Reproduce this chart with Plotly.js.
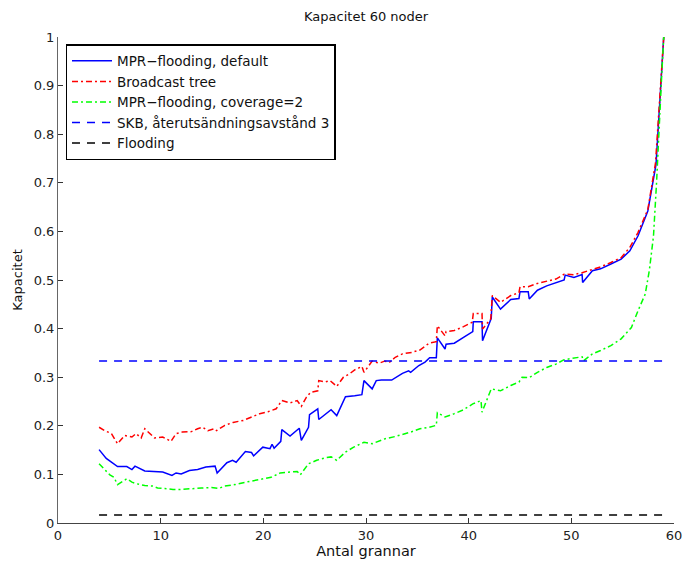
<!DOCTYPE html>
<html>
<head>
<meta charset="utf-8">
<script src="https://cdn.plot.ly/plotly-3.0.1.min.js"></script>
<style>html,body{margin:0;padding:0;background:#fff;}#chart{width:683px;height:564px;}</style>
</head>
<body>
<div id="chart"></div>
<script>
// MPR-flooding, default
const mprX = [4.0,4.7,5.8,6.7,7.2,7.5,8.45,9.25,10.2,11.1,11.5,12.0,12.8,13.6,14.4,15.3,15.5,16.45,17.0,17.35,18.25,18.85,19.05,19.95,20.65,20.85,21.05,21.7,21.8,22.6,23.5,23.7,24.4,24.5,25.3,25.4,26.2,26.6,27.15,28.0,28.9,29.6,29.8,30.6,31.0,31.5,32.5,33.55,34.15,34.35,35.15,35.75,36.2,36.85,36.95,37.7,37.8,38.6,39.5,40.4,40.45,41.3,41.35,42.2,42.3,43.1,44.1,44.9,45.0,45.8,45.9,46.7,47.6,48.5,49.3,49.4,50.25,51.05,51.1,52.05,52.85,53.85,54.85,55.7,56.5,57.45,58.25,59.0];
const mprY = [0.151,0.133,0.116,0.116,0.110,0.117,0.107,0.106,0.105,0.098,0.103,0.101,0.108,0.110,0.115,0.117,0.103,0.124,0.129,0.125,0.147,0.145,0.138,0.156,0.153,0.162,0.154,0.168,0.192,0.179,0.195,0.170,0.197,0.223,0.235,0.213,0.227,0.233,0.221,0.260,0.262,0.264,0.293,0.276,0.293,0.294,0.294,0.308,0.313,0.310,0.324,0.331,0.340,0.340,0.381,0.358,0.368,0.370,0.382,0.394,0.414,0.414,0.375,0.421,0.465,0.440,0.460,0.462,0.476,0.476,0.461,0.479,0.488,0.495,0.500,0.510,0.505,0.511,0.495,0.519,0.523,0.533,0.543,0.560,0.591,0.642,0.738,1.0];

// Broadcast tree
const treeX = [4.0,4.55,5.2,5.8,6.5,7.2,7.6,8.1,8.45,9.4,10.2,11.0,11.5,12.1,13.0,13.6,14.1,14.6,15.25,15.45,16.25,17.05,18.05,18.85,19.65,20.45,21.25,21.8,22.6,23.3,23.7,24.2,24.6,25.3,25.4,26.0,26.5,27.15,27.8,28.4,28.9,29.6,29.8,30.6,31.3,31.8,32.3,32.85,33.55,34.45,35.25,36.15,36.85,36.95,37.7,37.8,38.6,39.5,40.35,40.45,41.3,41.35,42.15,42.3,43.1,44.1,44.9,45.0,45.8,46.7,47.6,48.5,49.3,50.25,51.05,52.05,52.85,53.85,54.85,55.7,56.5,57.45,58.2,59.0];
const treeY = [0.197,0.190,0.184,0.163,0.180,0.177,0.184,0.175,0.194,0.175,0.177,0.168,0.184,0.187,0.188,0.194,0.197,0.190,0.194,0.190,0.201,0.207,0.211,0.218,0.225,0.229,0.235,0.252,0.247,0.252,0.240,0.259,0.269,0.272,0.293,0.290,0.293,0.281,0.300,0.307,0.315,0.322,0.310,0.333,0.329,0.333,0.331,0.341,0.348,0.351,0.356,0.370,0.373,0.406,0.385,0.394,0.396,0.404,0.413,0.431,0.431,0.399,0.420,0.468,0.454,0.468,0.474,0.486,0.486,0.493,0.498,0.502,0.512,0.511,0.515,0.522,0.527,0.536,0.546,0.567,0.598,0.645,0.741,1.0];

// MPR-flooding, coverage=2
const covX = [4.0,4.55,5.05,5.45,5.8,6.7,7.2,7.6,8.45,9.25,9.7,10.4,11.2,12.0,13.0,13.95,14.95,15.65,16.25,17.25,18.05,18.85,19.95,20.75,21.65,22.65,23.3,23.6,24.4,25.2,26.0,26.6,27.15,28.0,28.8,29.8,30.6,31.8,32.85,34.35,35.25,36.15,36.85,36.95,37.7,38.6,39.5,40.4,41.2,41.3,42.2,43.1,44.1,44.9,45.2,45.9,46.7,47.6,48.5,49.3,50.25,51.05,51.2,52.05,52.85,53.85,54.85,55.85,56.5,57.2,57.6,58.0,58.3,58.5,58.8,59.0];
const covY = [0.122,0.110,0.099,0.094,0.079,0.091,0.084,0.081,0.077,0.076,0.072,0.071,0.069,0.069,0.071,0.072,0.073,0.071,0.076,0.079,0.083,0.086,0.091,0.094,0.103,0.105,0.106,0.099,0.122,0.129,0.134,0.136,0.129,0.146,0.156,0.166,0.163,0.173,0.178,0.187,0.194,0.197,0.201,0.227,0.218,0.225,0.233,0.245,0.252,0.228,0.276,0.272,0.283,0.290,0.300,0.299,0.310,0.320,0.327,0.336,0.339,0.342,0.334,0.348,0.355,0.365,0.379,0.402,0.437,0.471,0.520,0.590,0.700,0.800,0.920,1.0];

// SKB, återutsändningsavstånd 3
const skbX = [4, 59];
const skbY = [0.3333, 0.3333];

// Flooding
const floodX = [4, 59];
const floodY = [0.0167, 0.0167];

const xTicks = [0,10,20,30,40,50,60];
const yTicks = [0,0.1,0.2,0.3,0.4,0.5,0.6,0.7,0.8,0.9,1];
const yTickText = ['0','0.1','0.2','0.3','0.4','0.5','0.6','0.7','0.8','0.9','1'];

const FONT = 'DejaVu Sans, sans-serif';

const traces = [
  {x: mprX, y: mprY, name: 'MPR\u2212flooding, default', mode: 'lines', line: {color: '#0000ff', width: 1.5}},
  {x: treeX, y: treeY, name: 'Broadcast tree', mode: 'lines', line: {color: '#ff0000', width: 1.5, dash: '6px,3px,2px,3px'}},
  {x: covX, y: covY, name: 'MPR\u2212flooding, coverage=2', mode: 'lines', line: {color: '#00ff00', width: 1.5, dash: '6px,3px,2px,3px'}},
  {x: skbX, y: skbY, name: 'SKB, återutsändningsavstånd 3', mode: 'lines', line: {color: '#0000ff', width: 1.5, dash: '8px,7px'}},
  {x: floodX, y: floodY, name: 'Flooding', mode: 'lines', line: {color: '#000000', width: 1.5, dash: '8px,7px'}}
];

const layout = {
  width: 683, height: 564,
  margin: {l: 58, r: 9, t: 37, b: 41, pad: 0},
  paper_bgcolor: '#ffffff', plot_bgcolor: '#ffffff',
  font: {family: FONT, size: 13, color: '#222'},
  showlegend: true,
  title: {text: 'Kapacitet 60 noder', font: {family: FONT, size: 13, color: '#111'}, x: 0.536, xanchor: 'center', y: 0.97, yanchor: 'middle'},
  xaxis: {
    range: [0, 60], tickmode: 'array', tickvals: xTicks,
    ticks: 'inside', ticklen: 5, tickcolor: '#333', tickwidth: 1,
    showline: true, linecolor: '#444', linewidth: 1, mirror: false,
    showgrid: false, zeroline: false,
    tickfont: {family: FONT, size: 13, color: '#222'},
    title: {text: 'Antal grannar', font: {family: FONT, size: 14.5, color: '#111'}, standoff: 0}
  },
  yaxis: {
    range: [0, 1], tickmode: 'array', tickvals: yTicks, ticktext: yTickText,
    ticks: 'inside', ticklen: 5, tickcolor: '#333', tickwidth: 1,
    showline: true, linecolor: '#666', linewidth: 1, mirror: false,
    showgrid: false, zeroline: false,
    tickfont: {family: FONT, size: 13, color: '#222'},
    title: {text: 'Kapacitet', font: {family: FONT, size: 13, color: '#111'}, standoff: 8}
  },
  legend: {
    x: 0.0125, y: 0.985, xanchor: 'left', yanchor: 'top',
    bgcolor: '#ffffff', bordercolor: '#000000', borderwidth: 1.3,
    font: {family: FONT, size: 13.5, color: '#111'},
    tracegroupgap: 0, itemwidth: 40
  }
};

Plotly.newPlot('chart', traces, layout, {displayModeBar: false, staticPlot: true});
</script>
</body>
</html>
